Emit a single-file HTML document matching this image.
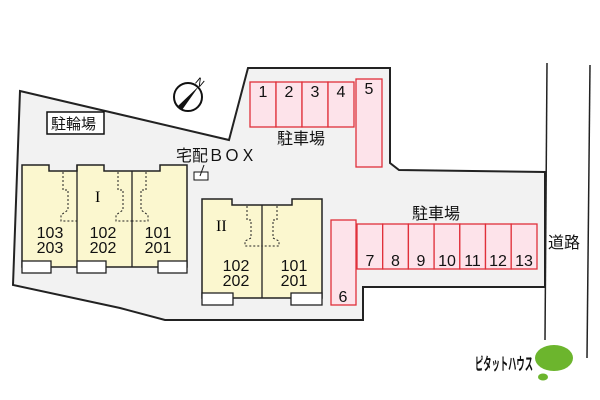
<!DOCTYPE html>
<html><head><meta charset="utf-8"><style>
body{margin:0;background:#fff;}
svg{display:block;font-family:"Liberation Sans","Noto Sans CJK JP",sans-serif;}
</style></head><body>
<svg width="600" height="400" viewBox="0 0 600 400" xmlns="http://www.w3.org/2000/svg">
<polygon points="20,91 229,140 248,68 390,68 390,163 399,170 545,172 545,287 363,287 363,320 165,320 120,308 13,285" fill="#f2f2f2" stroke="#222" stroke-width="2"/>
<line x1="547" y1="63" x2="545" y2="340" stroke="#222" stroke-width="1.5"/>
<line x1="590" y1="65" x2="587" y2="358" stroke="#222" stroke-width="1.5"/>
<text x="548" y="248" font-size="16" fill="#111">道路</text>
<circle cx="188" cy="97" r="14" fill="#fff" stroke="#111" stroke-width="2"/>
<polygon points="199,86 178,106 182,110" fill="#111"/>
<text x="196" y="86" font-size="11" transform="rotate(40 200 82)">N</text>
<rect x="47" y="112" width="57" height="22" fill="#fff" stroke="#111" stroke-width="1.5"/>
<text x="51" y="129" font-size="15" fill="#111">駐輪場</text>
<text x="176" y="161" font-size="16" fill="#111">宅配ＢＯＸ</text>
<rect x="194" y="172" width="14" height="8" fill="#fff" stroke="#111"/>
<line x1="200" y1="176" x2="204" y2="165" stroke="#111"/>
<polygon points="22,165 49,165 49,171 77,171 77,165 104,165 104,171 160,171 160,165 187,165 187,267 22,267" fill="#fbf7cf" stroke="#222" stroke-width="1.5"/>
<line x1="77" y1="165" x2="77" y2="267" stroke="#222" stroke-width="1.3"/>
<line x1="132" y1="171" x2="132" y2="267" stroke="#222" stroke-width="1.3"/>
<g fill="none" stroke="#222" stroke-dasharray="2,2">
<path d="M63,172 V190 H68 V210 L61,215 V221 H77"/>
<path d="M118,172 V190 H123 V210 L116,215 V221 H132"/>
<path d="M146,172 V190 H141 V210 L148,215 V221 H132"/>
</g>
<text x="95" y="202" font-size="16" font-family="Liberation Serif,serif">I</text>
<g font-size="16" fill="#111" text-anchor="middle">
<text x="50" y="238">103</text><text x="50" y="253">203</text>
<text x="103" y="238">102</text><text x="103" y="253">202</text>
<text x="158" y="238">101</text><text x="158" y="253">201</text>
</g>
<g fill="#fff" stroke="#222" stroke-width="1.3">
<rect x="22" y="261" width="29" height="12"/><rect x="77" y="261" width="29" height="12"/><rect x="158" y="261" width="29" height="12"/>
</g>
<polygon points="202,199 232,199 232,205 292,205 292,199 322,199 322,298 202,298" fill="#fbf7cf" stroke="#222" stroke-width="1.5"/>
<line x1="262" y1="205" x2="262" y2="298" stroke="#222" stroke-width="1.3"/>
<g fill="none" stroke="#222" stroke-dasharray="2,2">
<path d="M247,206 V220 H251 V238 L245,241 V246 H262"/>
<path d="M277,206 V220 H273 V238 L279,241 V246 H262"/>
</g>
<text x="216" y="231" font-size="16" font-family="Liberation Serif,serif">II</text>
<g font-size="16" fill="#111" text-anchor="middle">
<text x="236" y="271">102</text><text x="236" y="286">202</text>
<text x="294" y="271">101</text><text x="294" y="286">201</text>
</g>
<g fill="#fff" stroke="#222" stroke-width="1.3">
<rect x="202" y="293" width="31" height="12"/><rect x="291" y="293" width="31" height="12"/>
</g>
<g fill="#fde3ea" stroke="#e0303a" stroke-width="1.3">
<rect x="250" y="82" width="26" height="45"/><rect x="276" y="82" width="26" height="45"/><rect x="302" y="82" width="26" height="45"/><rect x="328" y="82" width="26" height="45"/>
<rect x="356" y="79" width="26" height="88"/>
<rect x="331" y="220" width="25" height="85"/>
<rect x="357" y="224" width="25.7" height="45"/><rect x="382.7" y="224" width="25.7" height="45"/><rect x="408.4" y="224" width="25.7" height="45"/><rect x="434.1" y="224" width="25.7" height="45"/><rect x="459.8" y="224" width="25.7" height="45"/><rect x="485.5" y="224" width="25.7" height="45"/><rect x="511.2" y="224" width="25.8" height="45"/>
</g>
<g font-size="16" fill="#111" text-anchor="middle">
<text x="263" y="97">1</text><text x="289" y="97">2</text><text x="315" y="97">3</text><text x="341" y="97">4</text>
<text x="369" y="94">5</text><text x="343" y="302">6</text>
<text x="370" y="266">7</text><text x="395.5" y="266">8</text><text x="421" y="266">9</text><text x="447" y="266">10</text><text x="472.5" y="266">11</text><text x="498" y="266">12</text><text x="524" y="266">13</text>
</g>
<text x="277" y="144" font-size="16" fill="#111">駐車場</text>
<text x="412" y="219" font-size="16" fill="#111">駐車場</text>
<text x="475" y="370" font-size="17" font-weight="bold" fill="#111" textLength="58" lengthAdjust="spacingAndGlyphs">ピタットハウス</text>
<ellipse cx="554" cy="358" rx="19" ry="13" fill="#6cb52d"/>
<ellipse cx="543" cy="377" rx="5" ry="3.5" fill="#6cb52d"/>
</svg>
</body></html>
